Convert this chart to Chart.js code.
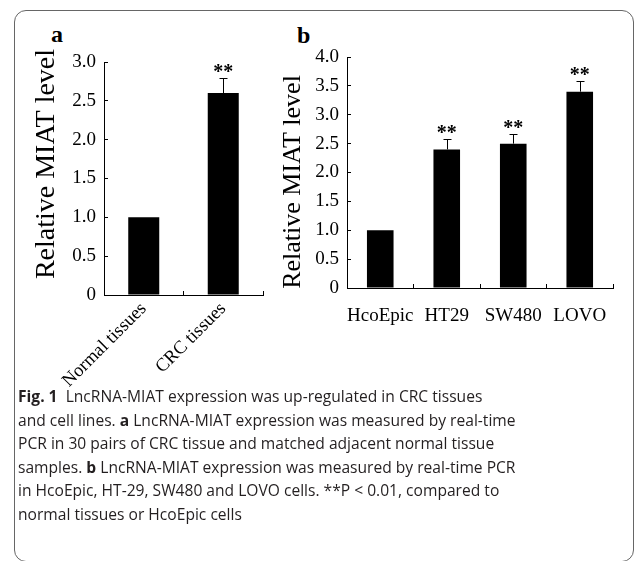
<!DOCTYPE html>
<html>
<head>
<meta charset="utf-8">
<script src="https://cdn.jsdelivr.net/npm/chart.js@4.4.1/dist/chart.umd.min.js"></script>
<style>
  body { margin: 0; background: #fff; width: 635px; height: 561px; overflow: hidden; position: relative; }
  #frame { position: absolute; left: 14px; top: 10px; width: 618px; height: 550px; border: 1px solid #666; border-radius: 12px; }
  .panel { position: absolute; font: bold 24px 'Liberation Serif', serif; line-height: 24px; }
  #wa { position: absolute; left: 0; top: 0; width: 290px; height: 420px; }
  #wb { position: absolute; left: 270px; top: 0; width: 365px; height: 360px; }
  #caption { position: absolute; left: 18px; top: 385px; font: 15.6px 'Open Sans', sans-serif; line-height: 23.5px; color: #231f20; white-space: nowrap; }
</style>
</head>
<body>
<div id="frame"></div>
<div class="panel" style="left:51px;top:22px">a</div>
<div class="panel" style="left:297px;top:23px">b</div>
<div id="wa"><canvas id="chartA"></canvas></div>
<div id="wb"><canvas id="chartB"></canvas></div>
<div id="caption">
  <div><b>Fig. 1</b>&nbsp; LncRNA-MIAT expression was up-regulated in CRC tissues</div>
  <div>and cell lines. <b>a</b> LncRNA-MIAT expression was measured by real-time</div>
  <div>PCR in 30 pairs of CRC tissue and matched adjacent normal tissue</div>
  <div>samples. <b>b</b> LncRNA-MIAT expression was measured by real-time PCR</div>
  <div>in HcoEpic, HT-29, SW480 and LOVO cells. **P &lt; 0.01, compared to</div>
  <div>normal tissues or HcoEpic cells</div>
</div>
<script>
// panel a: tissues
const tissues = ['Normal tissues', 'CRC tissues'];
const tissueLevel = [1.0, 2.6];
const tissueErr = [0, 0.2];
const tissueSig = ['', '**'];

// panel b: cell lines
const cells = ['HcoEpic', 'HT29', 'SW480', 'LOVO'];
const cellLevel = [1.0, 2.4, 2.5, 3.4];
const cellErr = [0, 0.18, 0.17, 0.18];
const cellSig = ['', '**', '**', '**'];

const yTitle = 'Relative MIAT level';

// error bars + significance stars on top of each bar
const errorBars = {
  id: 'errorBars',
  afterDatasetsDraw(chart, args, opts) {
    const ctx = chart.ctx;
    const y = chart.scales.y;
    const meta = chart.getDatasetMeta(0);
    ctx.save();
    ctx.strokeStyle = '#000';
    ctx.lineWidth = 1;
    ctx.fillStyle = '#000';
    ctx.font = 'bold 20px "Liberation Serif"';
    ctx.textAlign = 'center';
    ctx.textBaseline = 'alphabetic';
    meta.data.forEach((bar, i) => {
      let top = bar.y;
      if (opts.err[i]) {
        top = Math.round(y.getPixelForValue(opts.vals[i] + opts.err[i])) + 0.5;
        const x = Math.round(bar.x) + 0.5;
        ctx.beginPath();
        ctx.moveTo(x, bar.y);
        ctx.lineTo(x, top);
        ctx.moveTo(x - 4, top);
        ctx.lineTo(x + 4, top);
        ctx.stroke();
      }
      if (opts.sig[i]) ctx.fillText(opts.sig[i], bar.x, top - 1);
    });
    ctx.restore();
  }
};

// rotated y title placed by hand
const sideTitle = {
  id: 'sideTitle',
  afterDraw(chart, args, opts) {
    const ctx = chart.ctx;
    ctx.save();
    ctx.translate(opts.x, opts.y);
    ctx.rotate(-Math.PI / 2);
    ctx.font = opts.size + 'px "Liberation Serif"';
    ctx.fillStyle = '#000';
    ctx.textAlign = 'center';
    ctx.textBaseline = 'middle';
    ctx.fillText(opts.text, 0, 0);
    ctx.restore();
  }
};

function makeChart(id, labels, vals, err, sig, opt) {
  return new Chart(document.getElementById(id), {
    type: 'bar',
    data: {
      labels: labels,
      datasets: [{
        data: vals,
        backgroundColor: '#000',
        borderWidth: 0,
        barPercentage: opt.barPct,
        categoryPercentage: 1
      }]
    },
    options: {
      responsive: true,
      maintainAspectRatio: false,
      animation: false,
      events: [],
      layout: { padding: opt.padding },
      plugins: {
        legend: { display: false },
        tooltip: { enabled: false },
        errorBars: { vals: vals, err: err, sig: sig },
        sideTitle: { text: yTitle, x: opt.titleX, y: opt.titleY, size: opt.titleSize }
      },
      scales: {
        x: {
          grid: { drawOnChartArea: false, offset: true, tickLength: -4, color: '#000' },
          border: { color: '#000', width: 1 },
          ticks: {
            color: '#000',
            font: { family: 'Liberation Serif', size: opt.xSize },
            autoSkip: false,
            minRotation: opt.rot, maxRotation: opt.rot,
            padding: opt.xPad
          },
          afterFit(s) { s.height = opt.xHeight; }
        },
        y: {
          min: 0, max: opt.yMax,
          grid: { drawOnChartArea: false, tickLength: -4, color: '#000' },
          border: { color: '#000', width: 1 },
          ticks: {
            stepSize: 0.5,
            color: '#000',
            font: { family: 'Liberation Serif', size: 19 },
            padding: 12,
            callback: v => v === 0 ? '0' : v.toFixed(1)
          },
          afterFit(s) { s.width = opt.yWidth; }
        }
      }
    },
    plugins: [errorBars, sideTitle]
  });
}

makeChart('chartA', tissues, tissueLevel, tissueErr, tissueSig, {
  barPct: 0.39, padding: { top: 62, right: 27, left: 0, bottom: 0 },
  xHeight: 125, yWidth: 104, yMax: 3, rot: 45, xSize: 18.5, xPad: 7,
  titleX: 47, titleY: 164, titleSize: 28
});

makeChart('chartB', cells, cellLevel, cellErr, cellSig, {
  barPct: 0.4, padding: { top: 57, right: 22, left: 0, bottom: 0 },
  xHeight: 72, yWidth: 77, yMax: 4, rot: 0, xSize: 19, xPad: 21,
  titleX: 23, titleY: 182, titleSize: 26
});
</script>
</body>
</html>
